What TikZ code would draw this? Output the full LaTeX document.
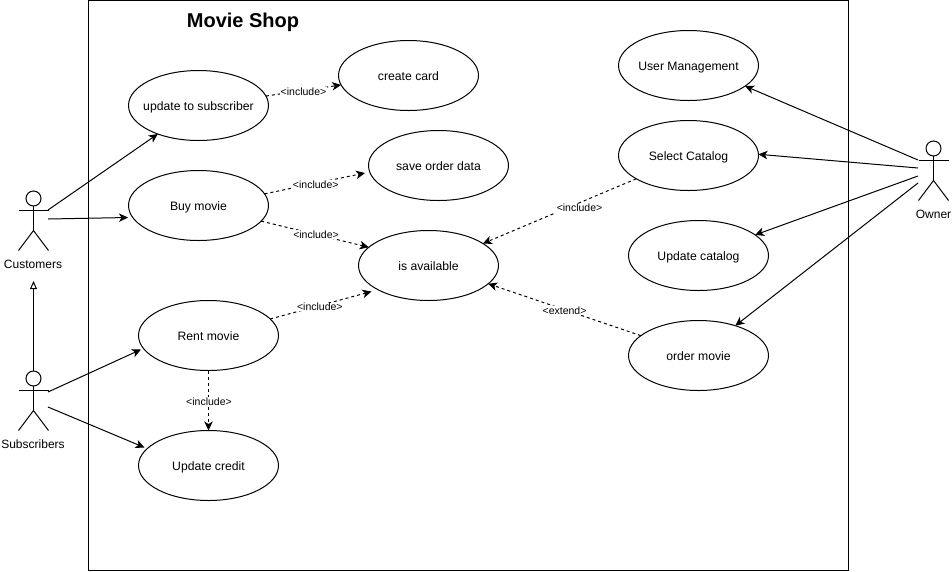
\documentclass[tikz,border=0pt]{standalone}
\usepackage{fontspec}
\setmainfont{Liberation Sans}
\usetikzlibrary{arrows.meta,shapes.geometric}
\tikzset{
  x=1pt,y=-1pt,
  every path/.style={line width=1pt},
  usecase/.style={draw,ellipse,minimum width=140pt,minimum height=70pt,inner ysep=0pt,inner xsep=-30pt,outer sep=0pt,text height=9.2pt,text depth=0pt,font=\fontsize{12.2}{14}\selectfont},
  actorbox/.style={minimum width=30pt,minimum height=60pt,inner sep=0pt,outer sep=0pt},
  actorlabel/.style={font=\fontsize{12}{14}\selectfont,inner sep=0pt},
  assoc/.style={-{Stealth[length=9pt,width=8.5pt,inset=2.5pt]}},
  dep/.style={assoc,dash pattern=on 3pt off 3pt},
  deplabel/.style={fill=white,font=\fontsize{10.5}{12}\selectfont,inner sep=0.5pt},
  general/.style={-{Triangle[open,length=8pt,width=7pt,fill=white]}},
}
\newcommand{\stickman}[1]{%
  \draw (#1)++(0,-22) circle (7.5pt);
  \draw (#1)++(0,-14.5) -- ++(0,24.5);
  \draw (#1)++(-15,-10) -- ++(30,0);
  \draw (#1)++(-15,30) -- ++(15,-20) -- ++(15,20);
}
\begin{document}
\begin{tikzpicture}
\useasboundingbox (0,0) rectangle (952,571);
\fill[white] (0,0) rectangle (952,571);
\node[draw,minimum width=760pt,minimum height=570pt,inner sep=0pt,outer sep=0pt] (frame) at (468.5,285.5) {};
\node[font=\bfseries\fontsize{20}{24}\selectfont,inner sep=0pt] (title) at (243,22) {Movie Shop};

\node[usecase] (sub) at (198.5,105.5) {update to subscriber};
\node[usecase] (card) at (408.5,75.5) {create card};
\node[usecase] (buy) at (198.5,205.5) {Buy movie};
\node[usecase] (save) at (438.5,165.5) {save order data};
\node[usecase] (avail) at (428.5,265.5) {is available};
\node[usecase] (rent) at (208.5,335.5) {Rent movie};
\node[usecase] (credit) at (208.5,465.5) {Update credit};
\node[usecase] (user) at (688.5,65.5) {User Management};
\node[usecase] (select) at (688.5,155.5) {Select Catalog};
\node[usecase] (update) at (698.5,255.5) {Update catalog};
\node[usecase] (order) at (698.5,355.5) {order movie};

\node[actorbox] (cust) at (33.5,220.5) {};
\node[actorbox] (subs) at (33.5,400.5) {};
\node[actorbox] (owner) at (933.5,170.5) {};
\stickman{cust}
\stickman{subs}
\stickman{owner}
\node[actorlabel] (custl) at (33,264) {Customers};
\node[actorlabel] (subsl) at (33,444) {Subscribers};
\node[actorlabel] (ownerl) at (933.5,214) {Owner};

\coordinate (custA) at (48,210);
\coordinate (custB) at (48,219);
\coordinate (subsA) at (48,392);
\coordinate (subsB) at (48,407);
\coordinate (subsT) at (33.5,371);
\coordinate (custT) at (33.5,281);
\coordinate (ownA) at (918,160);
\coordinate (ownB) at (918,168);
\coordinate (ownC) at (918,176);
\coordinate (ownD) at (918,183);
\coordinate (buyW) at (128,217.5);
\coordinate (rentW) at (141,349.5);
\coordinate (creditW) at (144.5,447.5);
\coordinate (saveW) at (365,173);
\coordinate (availW) at (371.5,291.5);

\draw[general] (subsT) -- (custT);
\draw[assoc] (custA) -- (sub.215);
\draw[assoc] (custB) -- (buyW);
\draw[assoc] (subsA) -- (rentW);
\draw[assoc] (subsB) -- (creditW);
\draw[assoc] (ownA) -- (user.340);
\draw[assoc] (ownB) -- (select.1);
\draw[assoc] (ownC) -- (update.20);
\draw[assoc] (ownD) -- (order.39);

\draw[dep] (sub.8.4) -- node[deplabel,pos=.5,yshift=-1pt] {<include>} (card.188.5);
\draw[dep] (buy.10.5) -- node[deplabel,pos=.51,yshift=-1.5pt] {<include>} (saveW);
\draw[dep] (buy.346) -- node[deplabel,pos=.51] {<include>} (avail.163);
\draw[dep] (rent.15) -- node[deplabel,pos=.49,yshift=-1.5pt] {<include>} (availW);
\draw[dep] (rent.270) -- node[deplabel,pos=.52,xshift=.5pt] {<include>} (credit.90);
\draw[dep] (select.204) -- node[deplabel,pos=.37,yshift=-5.5pt] {<include>} (avail.22);
\draw[dep] (order.161) -- node[deplabel,pos=.5,yshift=-1pt] {<extend>} (avail.343);
\end{tikzpicture}
\end{document}
